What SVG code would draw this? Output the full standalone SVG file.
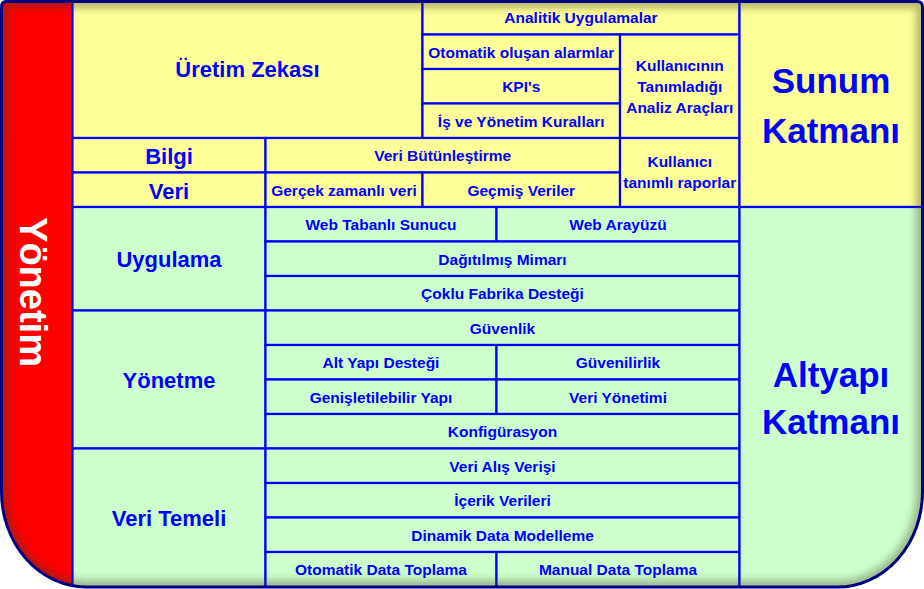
<svg xmlns="http://www.w3.org/2000/svg" width="924" height="589" viewBox="0 0 924 589">
<style>
.c{stroke:#0000FF;stroke-width:2.2}
.y{fill:#FFFF99}
.g{fill:#CCFFCC}
.t{font-family:"Liberation Sans",Arial,sans-serif;font-weight:bold;fill:#0000FF;text-anchor:middle}
.s{font-size:15.5px}
.b{font-size:22px}
.h{font-size:35px}
</style>
<defs>
<clipPath id="shape"><path d="M6,1.5 H917 Q922.5,1.5 922.5,7 V492 A85 95 0 0 1 837.5,587 H86 A85 95 0 0 1 1.5,492 V7 Q1.5,1.5 6,1.5 Z"/></clipPath>
<filter id="blur" x="-5%" y="-5%" width="110%" height="110%"><feGaussianBlur stdDeviation="3.5"/></filter>
</defs>
<g clip-path="url(#shape)">
<g id="yonetim"><rect x="0" y="0" width="72.5" height="589" fill="#FF0000" class="c"/><text class="t" transform="translate(20,292) rotate(90)" style="font-size:38px;fill:#FFFFFF">Yönetim</text></g>
<g id="uretim-zekasi"><rect class="c y" x="72.5" y="0" width="350" height="138"/><text class="t b" x="247.5" y="77">Üretim Zekası</text></g>
<g id="analitik"><rect class="c y" x="422.5" y="0" width="317" height="34.5"/><text class="t s" x="581" y="23">Analitik Uygulamalar</text></g>
<g id="otomatik-alarmlar"><rect class="c y" x="422.5" y="34.5" width="197.5" height="34.5"/><text class="t s" x="521.25" y="57.5">Otomatik oluşan alarmlar</text></g>
<g id="kpi"><rect class="c y" x="422.5" y="69" width="197.5" height="34.5"/><text class="t s" x="521.25" y="92">KPI's</text></g>
<g id="is-kurallari"><rect class="c y" x="422.5" y="103.5" width="197.5" height="34.5"/><text class="t s" x="521.25" y="126.5">İş ve Yönetim Kuralları</text></g>
<g id="analiz-araclari"><rect class="c y" x="620" y="34.5" width="119.5" height="103.5"/><text class="t s" x="679.75" y="71">Kullanıcının</text><text class="t s" x="679.75" y="92">Tanımladığı</text><text class="t s" x="679.75" y="113">Analiz Araçları</text></g>
<g id="bilgi"><rect class="c y" x="72.5" y="138" width="193" height="34.5"/><text class="t b" x="169" y="164">Bilgi</text></g>
<g id="veri"><rect class="c y" x="72.5" y="172.5" width="193" height="34.5"/><text class="t b" x="169" y="198.5">Veri</text></g>
<g id="veri-butunlestirme"><rect class="c y" x="265.5" y="138" width="354.5" height="34.5"/><text class="t s" x="442.75" y="161">Veri Bütünleştirme</text></g>
<g id="gercek-zamanli"><rect class="c y" x="265.5" y="172.5" width="157" height="34.5"/><text class="t s" x="344" y="195.5">Gerçek zamanlı veri</text></g>
<g id="gecmis-veriler"><rect class="c y" x="422.5" y="172.5" width="197.5" height="34.5"/><text class="t s" x="521.25" y="195.5">Geçmiş Veriler</text></g>
<g id="raporlar"><rect class="c y" x="620" y="138" width="119.5" height="69"/><text class="t s" x="679.75" y="167">Kullanıcı</text><text class="t s" x="679.75" y="188">tanımlı raporlar</text></g>
<g id="sunum-katmani"><rect class="c y" x="739.5" y="0" width="190" height="207"/><text class="t h" x="831" y="93">Sunum</text><text class="t h" x="831" y="143">Katmanı</text></g>
<g id="uygulama"><rect class="c g" x="72.5" y="207" width="193" height="103.5"/><text class="t b" x="169" y="266.5">Uygulama</text></g>
<g id="yonetme"><rect class="c g" x="72.5" y="310.5" width="193" height="138"/><text class="t b" x="169" y="387.5">Yönetme</text></g>
<g id="veri-temeli"><rect class="c g" x="72.5" y="448.5" width="193" height="145"/><text class="t b" x="169" y="525.5">Veri Temeli</text></g>
<g id="web-tabanli"><rect class="c g" x="265.5" y="207" width="231" height="34.5"/><text class="t s" x="381" y="230">Web Tabanlı Sunucu</text></g>
<g id="web-arayuzu"><rect class="c g" x="496.5" y="207" width="243" height="34.5"/><text class="t s" x="618" y="230">Web Arayüzü</text></g>
<g id="dagitilmis"><rect class="c g" x="265.5" y="241.5" width="474" height="34.5"/><text class="t s" x="502.5" y="264.5">Dağıtılmış Mimarı</text></g>
<g id="coklu-fabrika"><rect class="c g" x="265.5" y="276" width="474" height="34.5"/><text class="t s" x="502.5" y="299">Çoklu Fabrika Desteği</text></g>
<g id="guvenlik"><rect class="c g" x="265.5" y="310.5" width="474" height="34.5"/><text class="t s" x="502.5" y="333.5">Güvenlik</text></g>
<g id="alt-yapi-destegi"><rect class="c g" x="265.5" y="345" width="231" height="34.5"/><text class="t s" x="381" y="368">Alt Yapı Desteği</text></g>
<g id="guvenilirlik"><rect class="c g" x="496.5" y="345" width="243" height="34.5"/><text class="t s" x="618" y="368">Güvenilirlik</text></g>
<g id="genisletilebilir"><rect class="c g" x="265.5" y="379.5" width="231" height="34.5"/><text class="t s" x="381" y="402.5">Genişletilebilir Yapı</text></g>
<g id="veri-yonetimi"><rect class="c g" x="496.5" y="379.5" width="243" height="34.5"/><text class="t s" x="618" y="402.5">Veri Yönetimi</text></g>
<g id="konfigurasyon"><rect class="c g" x="265.5" y="414" width="474" height="34.5"/><text class="t s" x="502.5" y="437">Konfigürasyon</text></g>
<g id="veri-alis-verisi"><rect class="c g" x="265.5" y="448.5" width="474" height="34.5"/><text class="t s" x="502.5" y="471.5">Veri Alış Verişi</text></g>
<g id="icerik-verileri"><rect class="c g" x="265.5" y="483" width="474" height="34.5"/><text class="t s" x="502.5" y="506">İçerik Verileri</text></g>
<g id="dinamik-data"><rect class="c g" x="265.5" y="517.5" width="474" height="34.5"/><text class="t s" x="502.5" y="540.5">Dinamik Data Modelleme</text></g>
<g id="otomatik-data"><rect class="c g" x="265.5" y="552" width="231" height="40"/><text class="t s" x="381" y="575">Otomatik Data Toplama</text></g>
<g id="manual-data"><rect class="c g" x="496.5" y="552" width="243" height="40"/><text class="t s" x="618" y="575">Manual Data Toplama</text></g>
<g id="altyapi-katmani"><rect class="c g" x="739.5" y="207" width="190" height="390"/><text class="t h" x="831" y="387">Altyapı</text><text class="t h" x="831" y="434">Katmanı</text></g>
<path d="M6,1.5 H917 Q922.5,1.5 922.5,7 V492 A85 95 0 0 1 837.5,587 H86 A85 95 0 0 1 1.5,492 V7 Q1.5,1.5 6,1.5 Z" fill="none" stroke="#404020" stroke-opacity="0.35" stroke-width="14" filter="url(#blur)"/>
</g>
<path d="M6,1.5 H917 Q922.5,1.5 922.5,7 V492 A85 95 0 0 1 837.5,587 H86 A85 95 0 0 1 1.5,492 V7 Q1.5,1.5 6,1.5 Z" fill="none" stroke="#000080" stroke-width="3"/>
</svg>
